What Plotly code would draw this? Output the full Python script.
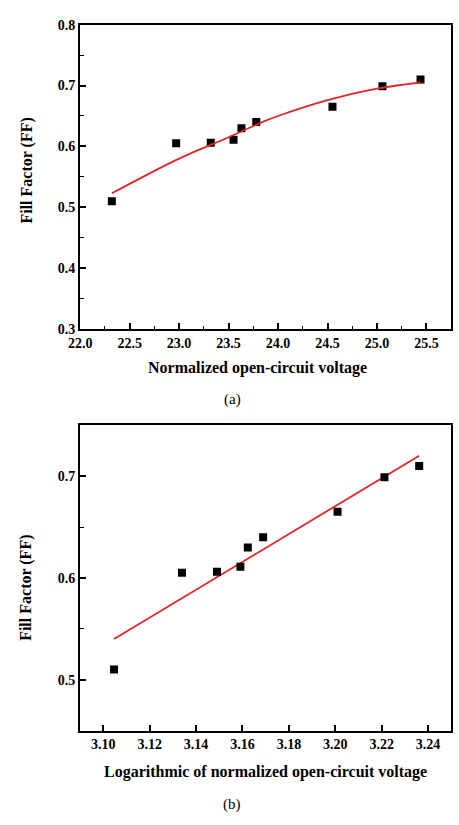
import plotly.graph_objects as go

# Panel (a)
voc_norm = [22.32, 22.97, 23.32, 23.55, 23.63, 23.78, 24.55, 25.055, 25.44]
ff = [0.51, 0.605, 0.606, 0.611, 0.63, 0.64, 0.665, 0.699, 0.71]
fit_a_x = [22.32, 23.0, 23.5, 23.87, 24.0, 24.5, 25.0, 25.44]
fit_a_y = [0.523, 0.580, 0.615, 0.642, 0.650, 0.676, 0.695, 0.705]

# Panel (b)
ln_voc = [3.1046, 3.1339, 3.1490, 3.1591, 3.1623, 3.1689, 3.2010, 3.2212, 3.2362]
ff_b = [0.51, 0.605, 0.606, 0.611, 0.63, 0.64, 0.665, 0.699, 0.71]
fit_b_x = [3.1046, 3.2362]
fit_b_y = [0.540, 0.720]

W, H = 459, 825
FONT = "Liberation Serif"
RED = "rgb(222,38,38)"

def py(px):
    return 1 - px / H

fig = go.Figure()
fig.add_trace(go.Scatter(x=voc_norm, y=ff, mode="markers",
                         marker=dict(symbol="square", size=8, color="black"),
                         xaxis="x", yaxis="y", showlegend=False))
fig.add_trace(go.Scatter(x=fit_a_x, y=fit_a_y, mode="lines", line_shape="spline",
                         line=dict(color=RED, width=1.8),
                         xaxis="x", yaxis="y", showlegend=False))
fig.add_trace(go.Scatter(x=fit_b_x, y=fit_b_y, mode="lines",
                         line=dict(color=RED, width=1.8),
                         xaxis="x2", yaxis="y2", showlegend=False))
fig.add_trace(go.Scatter(x=ln_voc, y=ff_b, mode="markers",
                         marker=dict(symbol="square", size=8, color="black"),
                         xaxis="x2", yaxis="y2", showlegend=False))

dom_x = [70 / W, 451 / W]
axis_common = dict(showline=True, linecolor="black", linewidth=2, mirror=True,
                   ticks="inside", ticklen=6, tickwidth=1.6, tickcolor="black",
                   showgrid=False, zeroline=False,
                   tickfont=dict(family=FONT, size=14, color="black"))

fig.update_layout(
    width=W, height=H,
    margin=dict(l=0, r=0, t=0, b=0),
    paper_bgcolor="white", plot_bgcolor="white",
    font=dict(family=FONT, color="black"),
    xaxis=dict(domain=dom_x, range=[22.0, 25.75], tickvals=[22.0, 22.5, 23.0, 23.5, 24.0, 24.5, 25.0, 25.5],
               ticktext=["<b>22.0</b>", "<b>22.5</b>", "<b>23.0</b>", "<b>23.5</b>", "<b>24.0</b>", "<b>24.5</b>", "<b>25.0</b>", "<b>25.5</b>"],
               minor=dict(ticks="inside", ticklen=3.5, dtick=0.25, tick0=22.0, tickcolor="black", tickwidth=1.4),
               anchor="y", **axis_common),
    yaxis=dict(domain=[py(328), py(18)], range=[0.3, 0.8], tickvals=[0.3, 0.4, 0.5, 0.6, 0.7, 0.8],
               ticktext=["<b>0.3</b>", "<b>0.4</b>", "<b>0.5</b>", "<b>0.6</b>", "<b>0.7</b>", "<b>0.8</b>"],
               minor=dict(ticks="inside", ticklen=3.5, dtick=0.05, tick0=0.3, tickcolor="black", tickwidth=1.4),
               anchor="x", **axis_common),
    xaxis2=dict(domain=dom_x, range=[3.09, 3.25],
                tickvals=[3.10, 3.12, 3.14, 3.16, 3.18, 3.20, 3.22, 3.24],
                ticktext=["<b>3.10</b>", "<b>3.12</b>", "<b>3.14</b>", "<b>3.16</b>", "<b>3.18</b>", "<b>3.20</b>", "<b>3.22</b>", "<b>3.24</b>"],
                anchor="y2", **axis_common),
    yaxis2=dict(domain=[py(737), py(426)], range=[0.45, 0.75], tickvals=[0.5, 0.6, 0.7],
                ticktext=["<b>0.5</b>", "<b>0.6</b>", "<b>0.7</b>"],
                minor=dict(ticks="inside", ticklen=3.5, dtick=0.05, tick0=0.45, tickcolor="black", tickwidth=1.4),
                anchor="x2", **axis_common),
)

title_font = dict(family=FONT, size=16, color="black")
label_font = dict(family=FONT, size=15, color="black")
ann = [
    dict(text="<b>Fill Factor (FF)</b>", x=15 / W, y=py(167), textangle=-90, font=title_font),
    dict(text="<b>Normalized open-circuit voltage</b>", x=252 / W, y=py(368), font=title_font),
    dict(text="(a)", x=226 / W, y=py(400), font=label_font),
    dict(text="<b>Fill Factor (FF)</b>", x=15 / W, y=py(592), textangle=-90, font=title_font),
    dict(text="<b>Logarithmic of normalized open-circuit voltage</b>", x=260 / W, y=py(779), font=title_font),
    dict(text="(b)", x=226 / W, y=py(812), font=label_font),
]
for a in ann:
    fig.add_annotation(xref="paper", yref="paper", showarrow=False,
                       xanchor="center", yanchor="middle", **a)

fig.write_html("out.html")
